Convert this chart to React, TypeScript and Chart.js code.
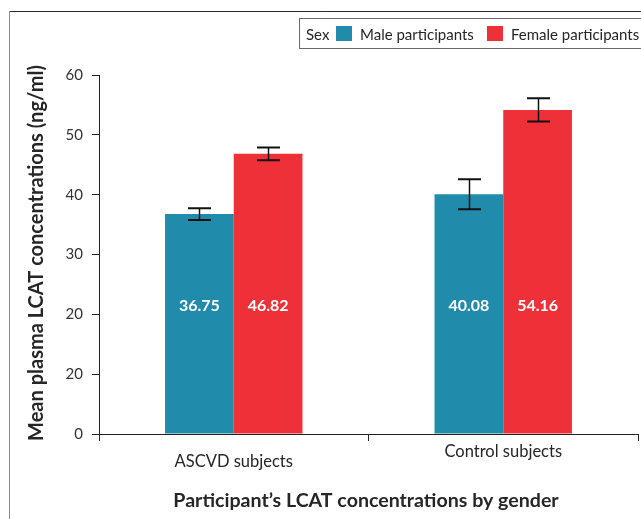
import React, { useEffect, useRef } from "react";
import { Chart, registerables } from "chart.js";

Chart.register(...registerables);

// Groups and series
const categories = ["ASCVD subjects", "Control subjects"];
const maleMeans = [36.75, 40.08];
const femaleMeans = [46.82, 54.16];
const maleErrors = [1.0, 2.5];
const femaleErrors = [1.05, 1.95];
const yTickLabels = ["0", "20", "20", "30", "40", "50", "60"];
const seriesNames = ["Male participants", "Female participants"];
const legendTitle = "Sex";
const yTitle = "Mean plasma LCAT concentrations (ng/ml)";
const xTitle = "Participant\u2019s LCAT concentrations by gender";
// value on the y scale at which the in-bar labels sit
const labelLevel = 21.4;

const TEAL = "#218BAB";
const RED = "#EE3039";
const FONT = "Lato, 'Open Sans', sans-serif";

const decorations = {
  id: "decorations",
  beforeDraw(chart: any) {
    const ctx = chart.ctx;
    ctx.save();
    ctx.fillStyle = "#ffffff";
    ctx.fillRect(0, 0, chart.width, chart.height);
    // outer frame (open to the right and bottom)
    ctx.lineWidth = 1;
    ctx.strokeStyle = "#2a2a2a";
    ctx.beginPath();
    ctx.moveTo(9.5, 11.5);
    ctx.lineTo(chart.width + 2, 11.5);
    ctx.stroke();
    ctx.strokeStyle = "#8a8a8a";
    ctx.beginPath();
    ctx.moveTo(9.5, 11.5);
    ctx.lineTo(9.5, chart.height + 2);
    ctx.stroke();
    ctx.restore();
  },
  afterDatasetsDraw(chart: any) {
    const ctx = chart.ctx;
    const yScale = chart.scales.y;
    const errs = [maleErrors, femaleErrors];
    ctx.save();
    // error bars
    chart.data.datasets.forEach((ds: any, di: number) => {
      const meta = chart.getDatasetMeta(di);
      meta.data.forEach((bar: any, i: number) => {
        const v = ds.data[i];
        const e = errs[di][i];
        const x = Math.round(bar.x) + 0.5;
        const yTop = yScale.getPixelForValue(v + e);
        const yBot = yScale.getPixelForValue(v - e);
        ctx.strokeStyle = "#111";
        ctx.lineWidth = 1.5;
        ctx.beginPath();
        ctx.moveTo(x, yTop);
        ctx.lineTo(x, yBot);
        ctx.stroke();
        ctx.lineWidth = 2;
        ctx.beginPath();
        ctx.moveTo(x - 11.5, yTop);
        ctx.lineTo(x + 11.5, yTop);
        ctx.moveTo(x - 11.5, yBot);
        ctx.lineTo(x + 11.5, yBot);
        ctx.stroke();
        // value label inside the bar
        ctx.fillStyle = "#ffffff";
        ctx.font = `bold 16px ${FONT}`;
        ctx.textAlign = "center";
        ctx.textBaseline = "middle";
        ctx.fillText(v.toFixed(2), bar.x, yScale.getPixelForValue(labelLevel));
      });
    });
    ctx.restore();
  },
  afterDraw(chart: any) {
    const ctx = chart.ctx;
    const xScale = chart.scales.x;
    const area = chart.chartArea;
    ctx.save();
    ctx.fillStyle = "#262626";

    // category labels, the first one set one step lower
    ctx.font = `16.5px ${FONT}`;
    ctx.textAlign = "center";
    ctx.textBaseline = "alphabetic";
    categories.forEach((c, i) => {
      const x = xScale.getPixelForValue(i);
      const base = area.bottom + (i === 0 ? 32.7 : 22.7);
      ctx.fillText(c, x, base);
    });

    // x axis title
    ctx.font = `bold 19.6px ${FONT}`;
    ctx.fillText(xTitle, 366, 506.5);

    // y axis title
    ctx.save();
    ctx.translate(43, 253);
    ctx.rotate(-Math.PI / 2);
    ctx.font = `bold 20px ${FONT}`;
    ctx.textAlign = "center";
    ctx.textBaseline = "alphabetic";
    ctx.fillText(yTitle, 0, 0);
    ctx.restore();

    // legend box
    ctx.strokeStyle = "#6a6a6a";
    ctx.lineWidth = 1;
    ctx.strokeRect(299.5, 18.5, chart.width, 30);
    ctx.font = `15px ${FONT}`;
    ctx.textAlign = "left";
    ctx.textBaseline = "alphabetic";
    ctx.fillStyle = "#262626";
    ctx.fillText(legendTitle, 306, 39.5);
    const swatches = [TEAL, RED];
    const swatchX = [336, 487];
    const textX = [360, 511];
    seriesNames.forEach((n, i) => {
      ctx.fillStyle = swatches[i];
      ctx.fillRect(swatchX[i], 26, 16, 15);
      ctx.fillStyle = "#262626";
      ctx.fillText(n, textX[i], 39.5);
    });
    ctx.restore();
  },
};

export default function App() {
  const ref = useRef<HTMLCanvasElement | null>(null);

  useEffect(() => {
    if (!ref.current) return;
    const chart = new Chart(ref.current, {
      type: "bar",
      data: {
        labels: categories,
        datasets: [
          {
            label: seriesNames[0],
            data: maleMeans,
            backgroundColor: TEAL,
            categoryPercentage: 0.51,
            barPercentage: 1.0,
          },
          {
            label: seriesNames[1],
            data: femaleMeans,
            backgroundColor: RED,
            categoryPercentage: 0.51,
            barPercentage: 1.0,
          },
        ],
      },
      options: {
        animation: false,
        responsive: false,
        devicePixelRatio: 1,
        layout: { padding: { left: 0, top: 75, right: 3, bottom: 0 } },
        plugins: {
          legend: { display: false },
          tooltip: { enabled: false },
        },
        scales: {
          x: {
            offset: true,
            afterFit: (s: any) => {
              s.height = 85;
            },
            ticks: { display: false },
            grid: {
              offset: true,
              drawOnChartArea: false,
              drawTicks: true,
              tickLength: 7,
              color: "#222",
            },
            border: { color: "#222", width: 1 },
          },
          y: {
            min: 0,
            max: 60,
            afterFit: (s: any) => {
              s.width = 99;
            },
            ticks: {
              stepSize: 10,
              padding: 9,
              color: "#333",
              font: { family: FONT, size: 15 },
              callback: (_v: any, i: number) => yTickLabels[i],
            },
            grid: {
              drawOnChartArea: false,
              drawTicks: true,
              tickLength: 7,
              color: "#222",
            },
            border: { color: "#222", width: 1 },
          },
        },
      },
      plugins: [decorations],
    });
    return () => chart.destroy();
  }, []);

  return (
    <div style={{ position: "fixed", left: 0, top: 0, width: 641, height: 519, overflow: "hidden" }}>
      <canvas ref={ref} width={641} height={519} style={{ display: "block", width: 641, height: 519 }} />
    </div>
  );
}
